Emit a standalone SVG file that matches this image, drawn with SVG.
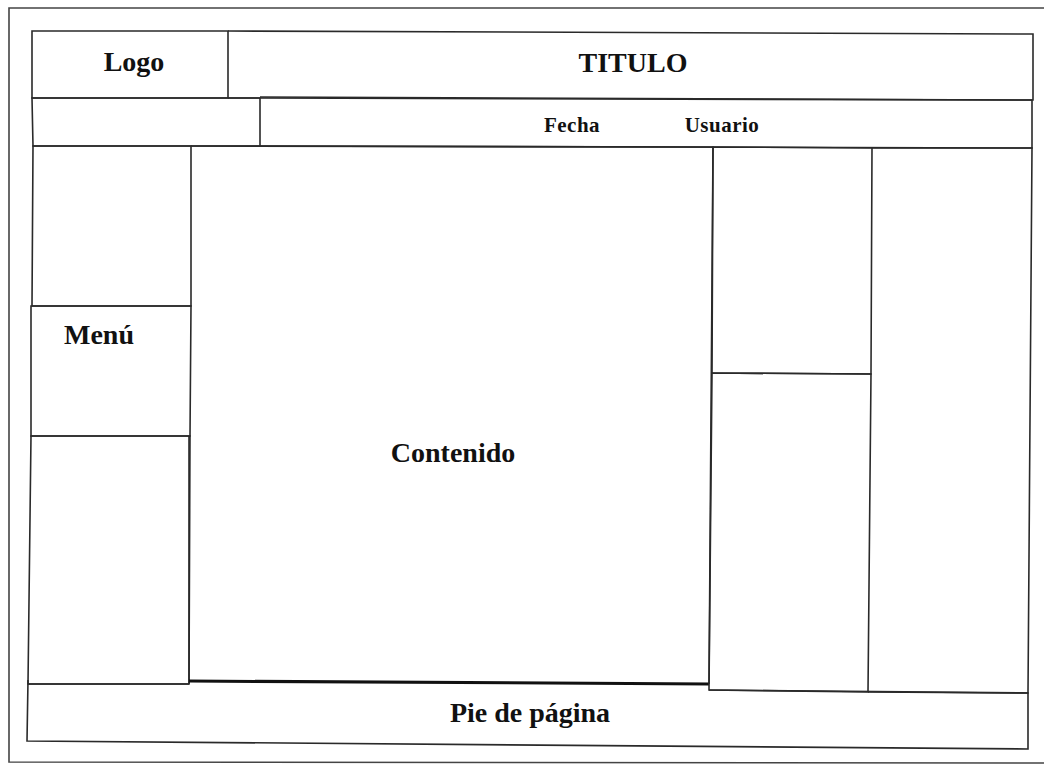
<svg xmlns="http://www.w3.org/2000/svg" width="1044" height="766" viewBox="0 0 1044 766">
<style>
.ln{fill:none;stroke:#2a2a2a;stroke-width:1.6;stroke-linejoin:miter}
.fr{fill:none;stroke:#444;stroke-width:1.6}
.thick{fill:none;stroke:#111;stroke-width:3}
.t{font-family:"Liberation Serif","Times New Roman",serif;font-weight:bold;fill:#111;text-anchor:middle}
.big{font-size:28px}
.sm{font-size:21px;letter-spacing:0.5px}
</style>
<rect width="1044" height="766" fill="#fff"/>
<g id="outer-frame">
<path class="fr" d="M1044,8 L9,8 L9,762 L1044,763"/>
</g>
<g id="logo">
<path class="ln" d="M32,31 L228,31 L228,98 L32,98 Z"/>
<text class="t big" x="134" y="71">Logo</text>
</g>
<g id="titulo">
<path class="ln" d="M228,31 L1033,34 L1033,100 L228,98"/>
<text class="t big" x="633" y="72">TITULO</text>
</g>
<g id="blank-left">
<path class="ln" d="M32,98 L260,98 L260,146 L33,146 Z"/>
</g>
<g id="fecha-usuario">
<path class="ln" d="M260,97 L1032,100 L1032,148 L260,146"/>
<text class="t sm" x="572" y="132">Fecha</text>
<text class="t sm" x="722" y="132">Usuario</text>
</g>
<g id="left-top">
<path class="ln" d="M33,146 L191,146 L191,306 L32,306 Z"/>
</g>
<g id="menu">
<path class="ln" d="M31,306 L191,306 L190,436 L31,436 Z"/>
<text class="t big" x="99" y="344">Menú</text>
</g>
<g id="left-bottom">
<path class="ln" d="M31,436 L190,436 L189,684 L28,684 Z"/>
</g>
<g id="contenido">
<path class="ln" d="M191,146 L713,147 L709,684 M189,684 L189,436"/>
<path class="thick" d="M189,681 L709,684"/>
<text class="t big" x="453" y="462">Contenido</text>
</g>
<g id="right-col1-top">
<path class="ln" d="M713,147 L872,148 L871,374 L712,373 Z"/>
</g>
<g id="right-col1-bottom">
<path class="ln" d="M712,373 L871,374 L868,692 L709,690 Z"/>
</g>
<g id="right-col2">
<path class="ln" d="M872,148 L1032,148 L1028,693 L868,692"/>
</g>
<g id="pie">
<path class="ln" d="M28,684 L189,684 M709,690 L1028,693 L1028,749 L27,741 L28,680"/>
<text class="t big" x="530" y="722">Pie de página</text>
</g>
<g id="connectors"></g>
</svg>
